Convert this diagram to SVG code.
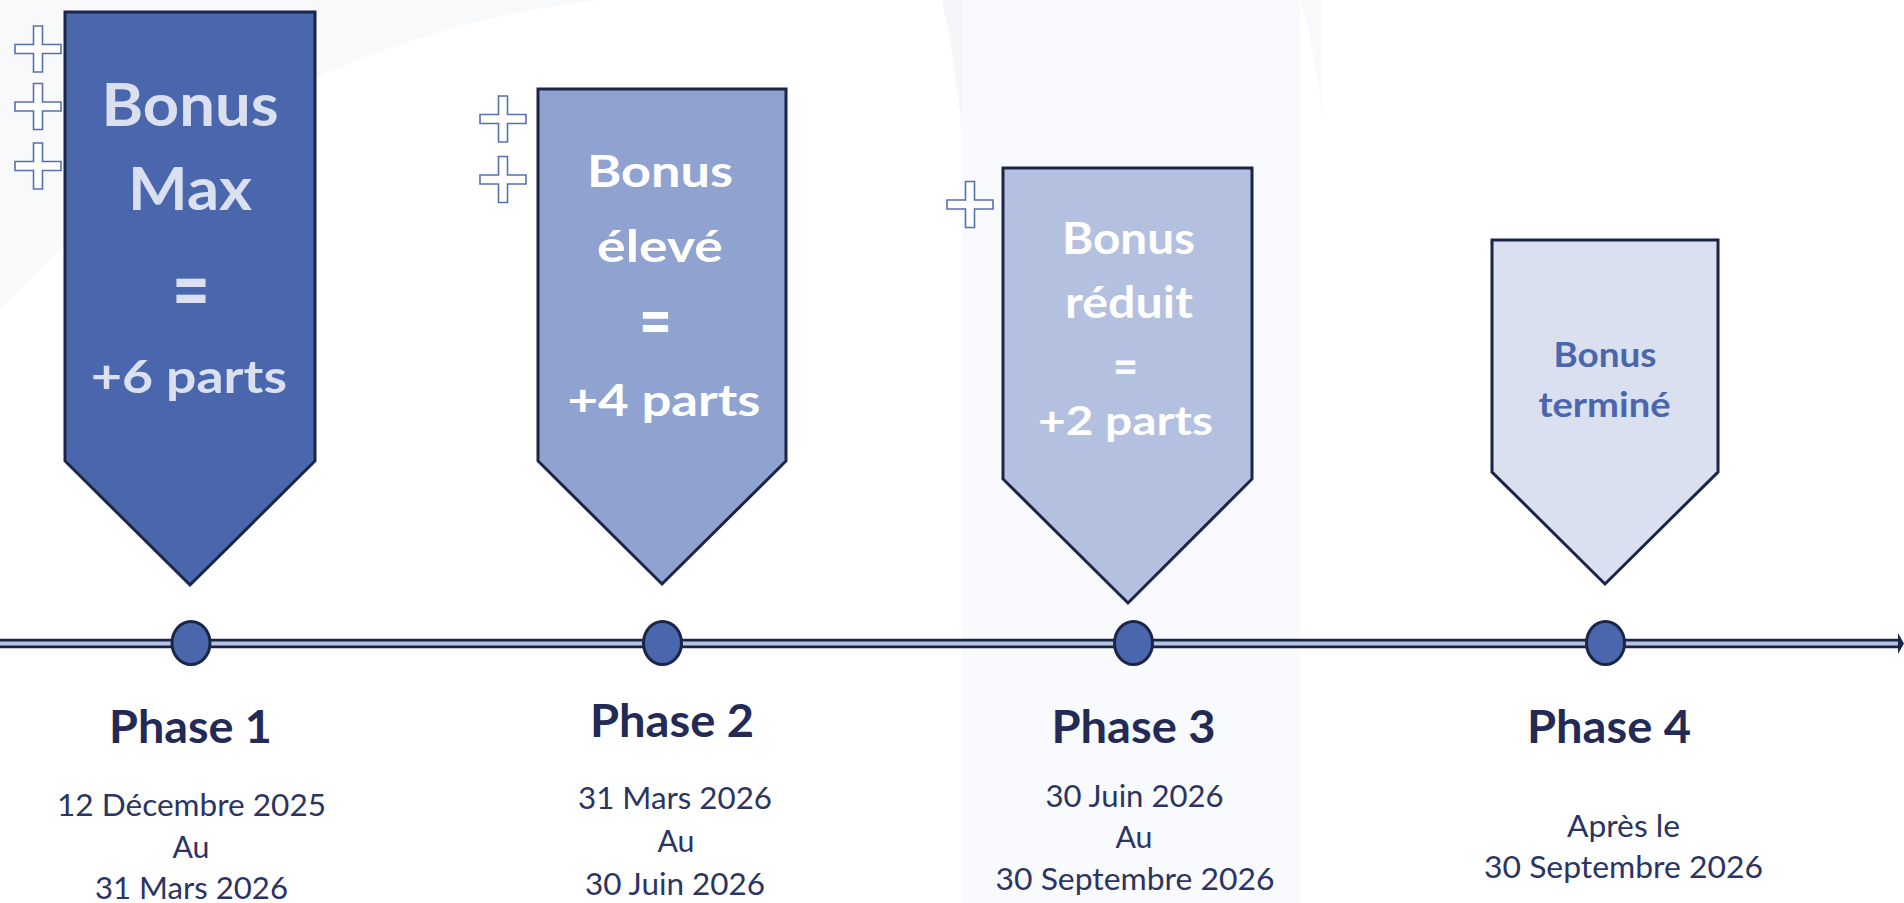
<svg xmlns="http://www.w3.org/2000/svg" width="1904" height="903" viewBox="0 0 1904 903">
<defs>
<style>
.shape{stroke:#1b2547;stroke-width:3;stroke-linejoin:miter}
.b{font-family:Lato,"Open Sans","Liberation Sans",sans-serif;font-weight:700;text-anchor:middle}
.r{font-family:Lato,"Open Sans","Liberation Sans",sans-serif;font-weight:400;text-anchor:middle;fill:#2b3462}
.ph{fill:#222a55;font-size:45px}
.cross{fill:#ffffff;stroke:#5670b2;stroke-width:1.6}
.dot{fill:#4a66ac;stroke:#1b2547;stroke-width:3}
</style>
<path id="plus" d="M-4.5,-23 H4.5 V-4.5 H23 V4.5 H4.5 V23 H-4.5 V4.5 H-23 V-4.5 H-4.5 Z"/>
</defs>
<rect width="1904" height="903" fill="#ffffff"/>
<g id="background">
<path d="M0,0 H600 Q250,40 0,310 Z" fill="#f8f9fb"/>
<rect x="962" y="0" width="338" height="903" fill="#f9fafd"/>
<path d="M942,0 Q955,60 962,130 L962,0 Z" fill="#f5f6f9"/>
<path d="M1300,0 Q1318,60 1322,120 L1322,0 Z" fill="#f8f9fb"/>
</g>
<g id="connectors">
<line x1="0" y1="643.5" x2="1900" y2="643.5" stroke="#1b2547" stroke-width="9.5"/>
<line x1="0" y1="643.5" x2="1898" y2="643.5" stroke="#b7c3e2" stroke-width="4"/>
<polygon points="1898,633 1904,643.5 1898,654" fill="#1b2547"/>
</g>
<g id="phase1">
<path class="shape" d="M65,12 H315 V461 L190,585 L65,461 Z" fill="#4a66ac"/>
<use href="#plus" x="38" y="49" class="cross"/>
<use href="#plus" x="38" y="106.5" class="cross"/>
<use href="#plus" x="38" y="166" class="cross"/>
<g class="b" fill="#dae0f0">
<text x="190" y="126" font-size="59" textLength="177" lengthAdjust="spacingAndGlyphs">Bonus</text>
<text x="190" y="210" font-size="59" textLength="124" lengthAdjust="spacingAndGlyphs">Max</text>
<text x="191" y="321" font-size="90" textLength="38" lengthAdjust="spacingAndGlyphs">=</text>
<text x="189" y="393" font-size="46" textLength="196" lengthAdjust="spacingAndGlyphs">+6 parts</text>
</g>
<ellipse class="dot" cx="191" cy="643" rx="19" ry="21.5"/>
<text class="b ph" x="190.5" y="743" textLength="163" lengthAdjust="spacingAndGlyphs">Phase 1</text>
<g class="r" font-size="31.7">
<text x="191.5" y="816" textLength="269" lengthAdjust="spacingAndGlyphs">12 Décembre 2025</text>
<text x="191" y="858" textLength="37" lengthAdjust="spacingAndGlyphs">Au</text>
<text x="191.5" y="899" textLength="193" lengthAdjust="spacingAndGlyphs">31 Mars 2026</text>
</g>
</g>
<g id="phase2">
<path class="shape" d="M538,89 H786 V461 L662,584 L538,461 Z" fill="#8fa2d0"/>
<use href="#plus" x="503" y="119" class="cross"/>
<use href="#plus" x="503" y="179.5" class="cross"/>
<g class="b" fill="#ffffff">
<text x="660" y="187" font-size="44" textLength="146" lengthAdjust="spacingAndGlyphs">Bonus</text>
<text x="660" y="262" font-size="44" textLength="126" lengthAdjust="spacingAndGlyphs">élevé</text>
<text x="655.5" y="347" font-size="74" textLength="33" lengthAdjust="spacingAndGlyphs">=</text>
<text x="664" y="416" font-size="43" textLength="193" lengthAdjust="spacingAndGlyphs">+4 parts</text>
</g>
<ellipse class="dot" cx="662.5" cy="643" rx="19" ry="21.5"/>
<text class="b ph" x="672" y="737" textLength="164" lengthAdjust="spacingAndGlyphs">Phase 2</text>
<g class="r" font-size="31.7">
<text x="675" y="809" textLength="194" lengthAdjust="spacingAndGlyphs">31 Mars 2026</text>
<text x="676" y="852" textLength="37" lengthAdjust="spacingAndGlyphs">Au</text>
<text x="675" y="895" textLength="180" lengthAdjust="spacingAndGlyphs">30 Juin 2026</text>
</g>
</g>
<g id="phase3">
<path class="shape" d="M1003,168 H1252 V479 L1128,603 L1003,479 Z" fill="#b4c0e0"/>
<use href="#plus" x="970" y="204.5" class="cross"/>
<g class="b" fill="#ffffff">
<text x="1128.5" y="254" font-size="43" textLength="133" lengthAdjust="spacingAndGlyphs">Bonus</text>
<text x="1129" y="318" font-size="43" textLength="128" lengthAdjust="spacingAndGlyphs">réduit</text>
<text x="1125.5" y="384" font-size="50" textLength="25" lengthAdjust="spacingAndGlyphs">=</text>
<text x="1125.5" y="435" font-size="39.5" textLength="175" lengthAdjust="spacingAndGlyphs">+2 parts</text>
</g>
<ellipse class="dot" cx="1133.5" cy="643" rx="19" ry="21.5"/>
<text class="b ph" x="1133.5" y="743" textLength="164" lengthAdjust="spacingAndGlyphs">Phase 3</text>
<g class="r" font-size="31.7">
<text x="1134.5" y="807" textLength="178" lengthAdjust="spacingAndGlyphs">30 Juin 2026</text>
<text x="1134" y="848" textLength="37" lengthAdjust="spacingAndGlyphs">Au</text>
<text x="1135" y="890" textLength="279" lengthAdjust="spacingAndGlyphs">30 Septembre 2026</text>
</g>
</g>
<g id="phase4">
<path class="shape" d="M1492,240 H1718 V472 L1605,584 L1492,472 Z" fill="#dae0f0"/>
<g class="b" fill="#4a66ac">
<text x="1605" y="367" font-size="35" textLength="103" lengthAdjust="spacingAndGlyphs">Bonus</text>
<text x="1604.5" y="417" font-size="35" textLength="132" lengthAdjust="spacingAndGlyphs">terminé</text>
</g>
<ellipse class="dot" cx="1605.5" cy="643" rx="19" ry="21.5"/>
<text class="b ph" x="1609" y="743" textLength="164" lengthAdjust="spacingAndGlyphs">Phase 4</text>
<g class="r" font-size="31.7">
<text x="1623.5" y="837" textLength="113" lengthAdjust="spacingAndGlyphs">Après le</text>
<text x="1623.5" y="878" textLength="279" lengthAdjust="spacingAndGlyphs">30 Septembre 2026</text>
</g>
</g>
</svg>
